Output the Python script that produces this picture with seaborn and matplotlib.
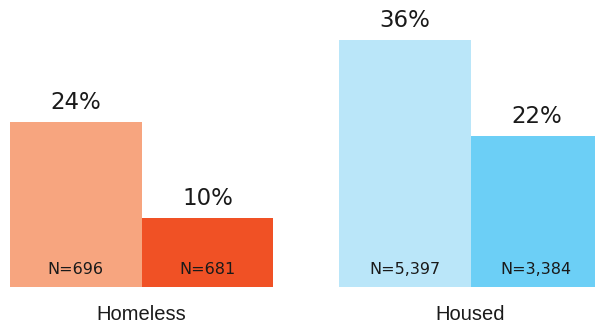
import matplotlib
matplotlib.use("Agg")
import matplotlib.pyplot as plt
import seaborn as sns
import pandas as pd

groups = ["Homeless", "Homeless", "Housed", "Housed"]
subgroups = ["A", "B", "A", "B"]
values = [24, 10, 36, 22]
n_labels = ["N=696", "N=681", "N=5,397", "N=3,384"]
bar_colors = ["#F7A57F", "#F05125", "#BAE6F9", "#6CCFF6"]

df = pd.DataFrame({"group": groups, "sub": subgroups, "value": values})

sns.set_theme(style="white")
plt.rcParams["font.family"] = ["DejaVu Sans"]

fig = plt.figure(figsize=(5.95, 3.26), dpi=100)
ax = fig.add_axes([0, 39.3 / 326, 1, 286.7 / 326])

sns.barplot(data=df, x="group", y="value", hue="sub", order=["Homeless", "Housed"],
            hue_order=["A", "B"], palette=["#888888", "#444444"], width=0.8,
            saturation=1, legend=False, ax=ax, errorbar=None, linewidth=0)

# recolor bars and add labels
for h_idx, cont in enumerate(ax.containers):
    for g_idx, bar in enumerate(cont.patches):
        i = g_idx * 2 + h_idx
        bar.set_facecolor(bar_colors[i])
        bar.set_edgecolor("none")
        cx = bar.get_x() + bar.get_width() / 2
        ax.annotate(f"{values[i]}%", xy=(cx, bar.get_height()), xytext=(0, 6),
                    textcoords="offset points", ha="center", va="bottom",
                    fontsize=16.5, color="#1a1a1a")
        ax.annotate(n_labels[i], xy=(cx, 0), xytext=(0, 12.7),
                    textcoords="offset points", ha="center", va="center",
                    fontsize=11.5, color="#1a1a1a")

ax.set_xlim(-0.4 - 10 / 329, -0.4 - 10 / 329 + 595 / 329)
ax.set_ylim(0, 286.7 / 6.85)
ax.set_xlabel("")
ax.set_ylabel("")
ax.set_yticks([])
ax.tick_params(axis="x", length=0, pad=13)
for lbl in ax.get_xticklabels():
    lbl.set_fontfamily("Liberation Sans")
    lbl.set_fontsize(14.5)
    lbl.set_color("#1a1a1a")
for s in ax.spines.values():
    s.set_visible(False)

fig.savefig("out.png", dpi=100)
